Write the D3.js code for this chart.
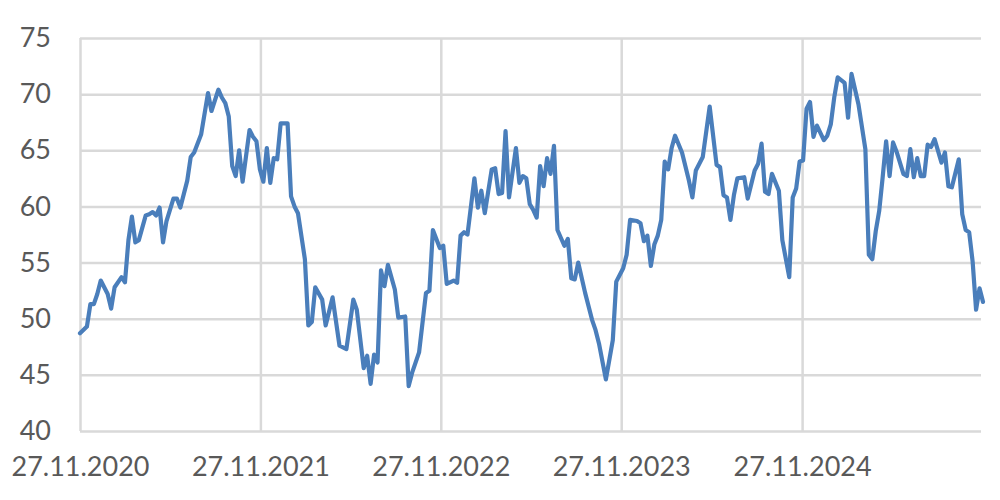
<!DOCTYPE html>
<html><head><meta charset="utf-8">
<script src="https://cdn.jsdelivr.net/npm/d3@7"></script>
<style>
html,body{margin:0;padding:0;background:#fff;}
svg text{font-family:Lato,"Open Sans",sans-serif;fill:#595959;}
</style></head>
<body>
<svg id="chart" width="1000" height="500"></svg>
<script>
// Weeks since 27.11.2020 (weekly observations) and index values
const weeks = [0,2,3,4,5,6,8,9,10,12,13,14,15,16,17,19,20,21,22,23,24,25,27,28,29,31,32,33,35,37,38,40,41,
42,43,44,45,46,47,49,50,51,52,53,54,55,56,57,58,60,61,62,63,65,66,67,68,70,71,73,75,77,79,80,82,83,84,85,86,87,
88,89,91,92,94,95,96,98,100,101,102,104,105,106,108,109,110,111,112,114,115,116,117,119,120,121,122,123,124,126,127,128,129,130,
131,132,133,134,135,136,137,138,140,141,142,143,144,146,148,149,150,152,154,155,157,158,159,161,162,163,164,165,166,167,168,169,170,171,172,
174,176,177,178,180,182,184,185,186,187,188,189,190,192,193,195,196,197,198,199,200,202,203,205,206,207,208,209,210,211,212,213,215,216,217,
218,219,221,222,223,225,227,228,229,230,231,232,233,234,235,236,238,239,240,241,242,243,244,245,246,247,249,250,251,252,254,255,256,257,258,259,260,261];
const values = [48.7,49.3,51.3,51.3,52.2,53.4,52.2,50.9,52.8,53.7,53.25,57.0,59.1,56.8,57.0,59.2,59.3,59.5,59.2,59.9,56.8,58.7,60.7,60.7,59.9,62.3,64.4,64.8,66.4,70.1,68.5,70.4,69.7,
69.2,68.0,63.6,62.7,65.0,62.2,66.8,66.2,65.8,63.3,62.2,65.2,62.1,64.3,64.2,67.4,67.4,60.9,60.0,59.4,55.3,49.4,49.7,52.8,51.7,49.4,51.9,47.6,47.3,51.7,50.8,45.6,46.7,44.2,46.8,46.1,54.3,
52.9,54.8,52.6,50.1,50.2,44.0,45.2,47.0,52.3,52.5,57.9,56.3,56.5,53.1,53.4,53.2,57.4,57.7,57.5,62.5,59.9,61.4,59.4,63.3,63.4,61.1,61.2,66.7,60.8,65.2,62.1,62.7,62.5,60.2,
59.7,59.0,63.6,61.8,64.3,62.9,65.4,57.9,56.5,57.1,53.6,53.5,55.0,52.3,49.9,49.0,47.8,44.6,48.1,53.3,54.5,55.7,58.8,58.7,58.5,56.9,57.4,54.7,56.6,57.4,58.8,64.0,63.3,65.2,66.3,
64.8,62.3,60.8,63.2,64.4,68.9,63.7,63.5,61.0,60.8,58.8,61.0,62.5,62.6,60.7,63.2,63.8,65.6,61.3,61.1,62.9,61.4,57.0,53.7,60.8,61.6,64.0,64.1,68.7,69.3,66.2,67.2,65.9,66.3,67.3,
69.7,71.5,71.0,67.9,71.8,69.1,65.1,55.7,55.3,57.8,59.6,62.6,65.8,62.7,65.7,64.9,62.9,62.7,65.1,62.6,64.3,62.7,62.7,65.5,65.3,66.0,63.9,64.8,61.8,61.7,64.2,59.3,57.9,57.7,55.1,50.8,52.7,51.5];
const yTicks = [40,45,50,55,60,65,70,75];
const xTickLabels = ["27.11.2020","27.11.2021","27.11.2022","27.11.2023","27.11.2024"];

const parse = d3.timeParse("%d.%m.%Y");
const fmt = d3.timeFormat("%d.%m.%Y");
const start = parse(xTickLabels[0]);
const data = weeks.map((w,i)=>({date:d3.timeDay.offset(start, w*7), value:values[i]}));
const endDate = d3.timeDay.offset(start, 261*7);

const svg = d3.select("#chart");
const mLeft = 80, mRight = 983, mTop = 38, mBottom = 431;

const x = d3.scaleTime().domain([start, endDate]).range([mLeft, mRight]);
const y = d3.scaleLinear().domain([40,75]).range([mBottom, mTop]);

// horizontal grid + y labels
const yAxis = svg.append("g").attr("transform",`translate(${mLeft},0)`)
  .call(d3.axisLeft(y).tickValues(yTicks).tickSize(-(mRight-2-mLeft)).tickPadding(29).tickFormat(d3.format("d")));
yAxis.select(".domain").remove();
yAxis.selectAll("line").attr("stroke","#d9d9d9").attr("stroke-width",2.5);
yAxis.selectAll("text").attr("font-size",27).attr("fill","#595959").style("font-family","Lato, sans-serif");

// vertical grid + x labels
const xAxis = svg.append("g").attr("transform",`translate(0,${mBottom})`)
  .call(d3.axisBottom(x).tickValues(xTickLabels.map(parse)).tickSize(-(mBottom-mTop)).tickPadding(26).tickFormat(fmt));
xAxis.select(".domain").remove();
xAxis.selectAll("line").attr("stroke","#d9d9d9").attr("stroke-width",2.5);
xAxis.selectAll("text").attr("font-size",27).attr("fill","#595959").style("font-family","Lato, sans-serif")
  .attr("dy","0.71em");

// line
svg.append("path").datum(data)
  .attr("fill","none").attr("stroke","#4a7ebb").attr("stroke-width",4.2)
  .attr("stroke-linejoin","round").attr("stroke-linecap","round")
  .attr("d", d3.line().x(d=>x(d.date)).y(d=>y(d.value)));
</script>
</body></html>
